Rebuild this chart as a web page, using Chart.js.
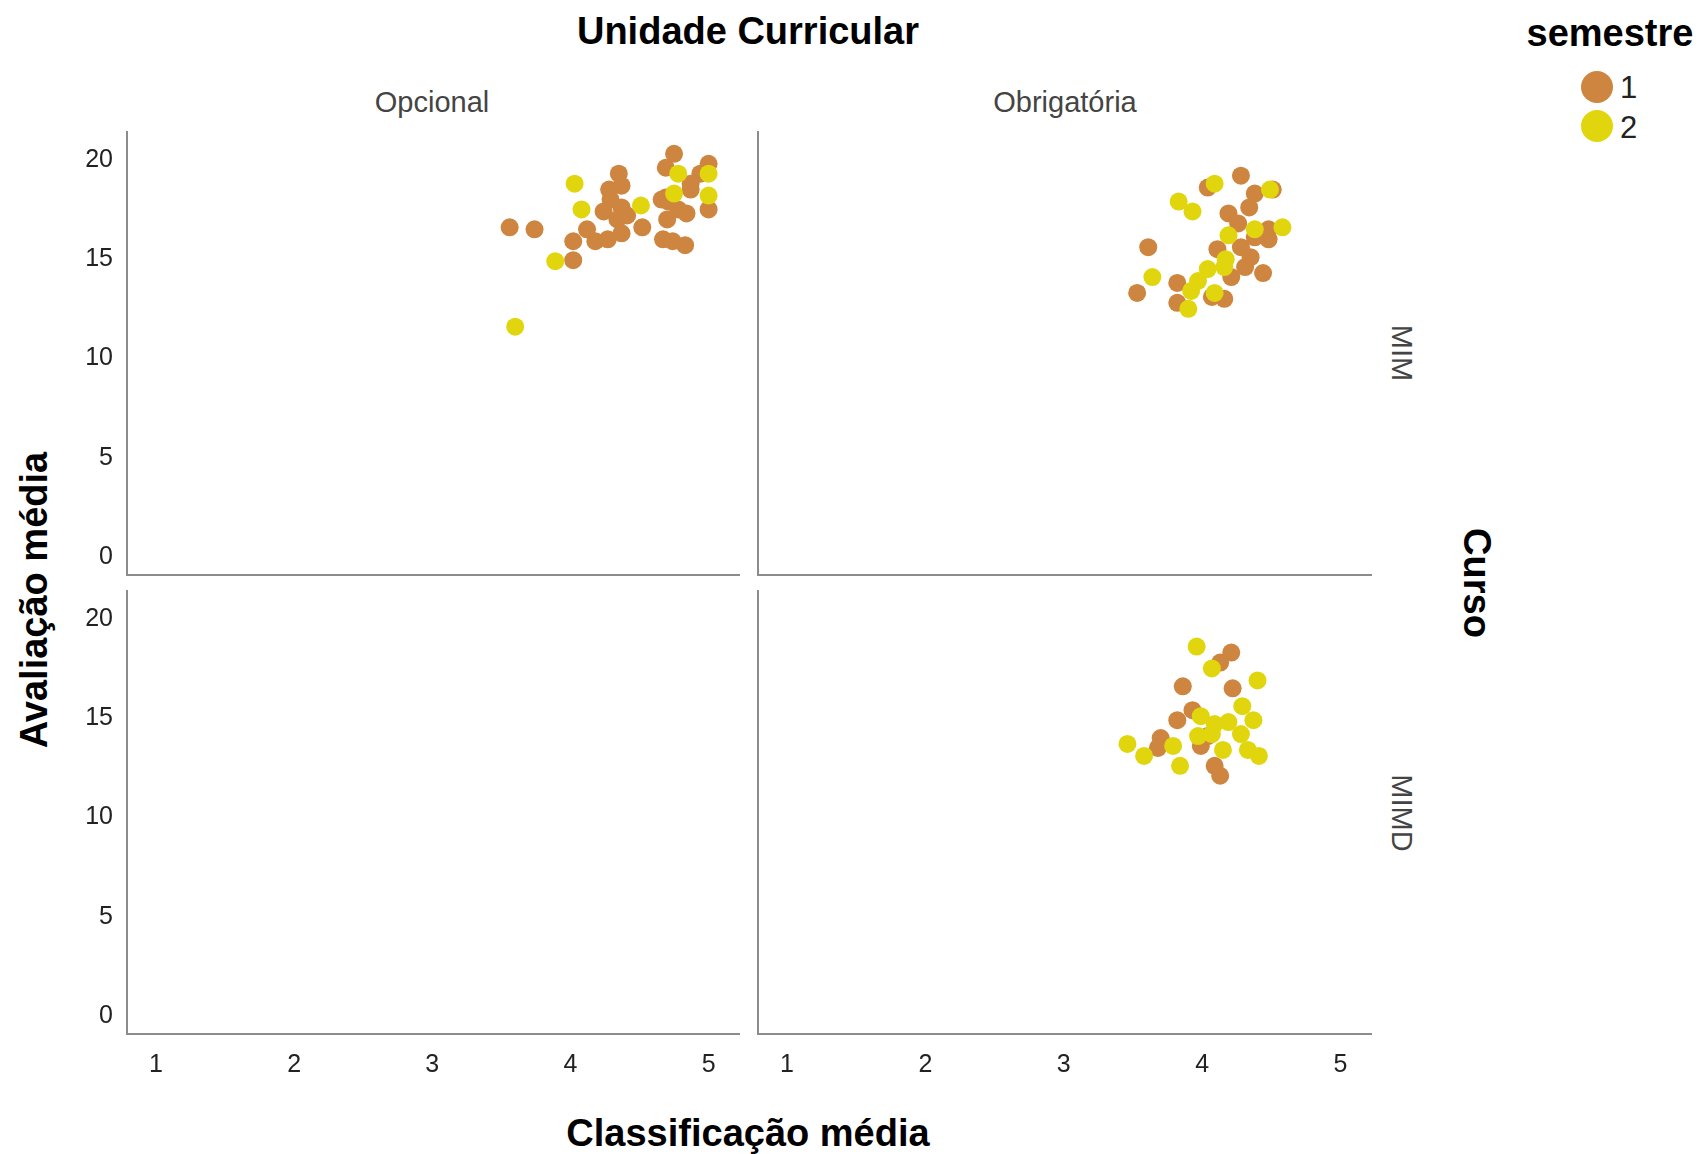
<!DOCTYPE html>
<html>
<head>
<meta charset="utf-8">
<script src="https://cdn.jsdelivr.net/npm/chart.js@4.4.1/dist/chart.umd.min.js"></script>
<style>
  body { margin: 0; background: #fff; width: 1699px; height: 1154px; position: relative; overflow: hidden;
         font-family: "Liberation Sans", Arial, sans-serif; }
  canvas { position: absolute; }
  .t { position: absolute; white-space: nowrap; transform: translate(-50%, -50%); }
  .big { font-weight: bold; font-size: 38px; color: #000; }
  .strip { font-size: 29px; color: #444; }
  .dot { position: absolute; width: 32px; height: 32px; border-radius: 50%; }
  .lg { position: absolute; font-size: 31px; color: #222; }
</style>
</head>
<body>

<div class="t big" style="left:748px;top:31px">Unidade Curricular</div>
<div class="t strip" style="left:432px;top:102px">Opcional</div>
<div class="t strip" style="left:1065px;top:102px">Obrigatória</div>
<div class="t strip" style="left:1401px;top:353px;transform:translate(-50%,-50%) rotate(90deg)">MIM</div>
<div class="t strip" style="left:1401px;top:813px;transform:translate(-50%,-50%) rotate(90deg)">MIMD</div>
<div class="t big" style="left:1476px;top:583px;transform:translate(-50%,-50%) rotate(90deg)">Curso</div>
<div class="t big" style="left:34px;top:600px;transform:translate(-50%,-50%) rotate(-90deg)">Avaliação média</div>
<div class="t big" style="left:748px;top:1133px">Classificação média</div>

<div class="t big" style="left:1610px;top:33px">semestre</div>
<div class="dot" style="left:1581px;top:71px;background:#CD853F"></div>
<div class="lg" style="left:1620px;top:70px">1</div>
<div class="dot" style="left:1581px;top:110px;background:#E1D60E"></div>
<div class="lg" style="left:1620px;top:110px">2</div>

<canvas id="tl"></canvas>
<canvas id="tr"></canvas>
<canvas id="bl"></canvas>
<canvas id="br"></canvas>

<script>
  const xTicks = [1, 2, 3, 4, 5];
  const yTicks = [0, 5, 10, 15, 20];

  // MIM, Opcional
  const mimOpcional1 = [[3.56,16.6],[3.74,16.5],[4.75,20.3],[4.69,19.6],[5.0,19.8],[4.35,19.3],[4.28,18.5],[4.37,18.7],
    [4.87,18.5],[4.94,19.3],[4.69,18.1],[4.29,18.0],[4.37,17.6],[4.24,17.4],[4.34,17.0],[4.41,17.2],[4.78,17.5],
    [4.84,17.3],[5.0,17.5],[4.70,17.0],[4.71,17.9],[4.52,16.6],[4.12,16.5],[4.02,15.9],[4.02,14.95],[4.18,15.9],
    [4.27,16.0],[4.37,16.3],[4.67,16.0],[4.74,15.9],[4.83,15.7],[4.87,18.8],[4.66,18.0]];
  const mimOpcional2 = [[4.03,18.8],[4.08,17.5],[4.51,17.7],[4.78,19.3],[4.75,18.3],[5.0,19.3],[5.0,18.2],[3.89,14.9],[3.60,11.6]];

  // MIM, Obrigatória
  const mimObrig1 = [[4.28,19.2],[4.04,18.6],[4.38,18.3],[4.51,18.5],[4.34,17.6],[4.19,17.3],[4.26,16.8],[4.48,16.5],
    [4.48,16.0],[3.61,15.6],[4.11,15.5],[4.28,15.6],[4.35,15.1],[4.31,14.6],[4.44,14.3],[4.21,14.1],[3.82,13.8],
    [3.53,13.3],[3.82,12.8],[4.16,13.0],[4.07,13.1],[4.38,16.1]];
  const mimObrig2 = [[4.09,18.8],[3.83,17.9],[3.93,17.4],[4.49,18.5],[4.58,16.6],[4.38,16.5],[4.19,16.2],[4.17,15.0],
    [3.64,14.1],[4.04,14.5],[3.97,13.9],[3.92,13.4],[4.09,13.3],[3.90,12.5],[4.16,14.6]];

  // MIMD, Opcional (sem dados)
  const mimdOpcional1 = [];
  const mimdOpcional2 = [];

  // MIMD, Obrigatória
  const mimdObrig1 = [[4.21,18.3],[4.13,17.8],[3.86,16.6],[4.22,16.5],[3.93,15.4],[3.82,14.9],[3.70,14.0],[3.68,13.5],
    [3.99,13.6],[4.09,12.6],[4.13,12.1],[4.04,14.1]];
  const mimdObrig2 = [[3.96,18.6],[4.07,17.5],[4.40,16.9],[3.99,15.1],[4.29,15.6],[4.37,14.9],[4.19,14.8],[4.09,14.7],
    [3.46,13.7],[3.58,13.1],[3.79,13.6],[3.84,12.6],[3.97,14.1],[4.15,13.4],[4.33,13.4],[4.41,13.1],[4.07,14.2],[4.28,14.2]];

  const orange = '#CD853F';
  const yellow = '#E1D60E';
  const axisGrey = '#8c8c8c';
  const tickFont = { family: 'Liberation Sans, Arial, sans-serif', size: 25 };

  // space around the plot area inside each canvas
  const padL = 80, padT = 20, padR = 10, padB = 60;

  function pts(arr) {
    return arr.map(p => ({ x: p[0], y: p[1] }));
  }

  function panel(id, plotL, plotT, plotW, plotH, s1, s2, showX, showY) {
    const cv = document.getElementById(id);
    cv.width = plotW + padL + padR;
    cv.height = plotH + padT + padB;
    cv.style.left = (plotL - padL) + 'px';
    cv.style.top = (plotT - padT) + 'px';

    new Chart(cv, {
      type: 'scatter',
      data: {
        datasets: [
          { label: '1', data: pts(s1), backgroundColor: orange, borderWidth: 0, pointRadius: 9, order: 2 },
          { label: '2', data: pts(s2), backgroundColor: yellow, borderWidth: 0, pointRadius: 9, order: 1 }
        ]
      },
      options: {
        responsive: false,
        animation: false,
        layout: { padding: { top: padT, right: padR, left: 0, bottom: 0 } },
        plugins: { legend: { display: false }, tooltip: { enabled: false } },
        scales: {
          x: {
            type: 'linear', min: 0.79, max: 5.22,
            afterBuildTicks: s => { s.ticks = xTicks.map(v => ({ value: v })); },
            afterFit: s => { s.height = padB; s.paddingLeft = 0; s.paddingRight = 0; },
            grid: { display: false, drawTicks: false },
            border: { color: axisGrey, width: 2 },
            ticks: { display: showX, font: tickFont, color: '#222', padding: 16 }
          },
          y: {
            type: 'linear', min: -0.9, max: 21.4,
            afterBuildTicks: s => { s.ticks = yTicks.map(v => ({ value: v })); },
            afterFit: s => { s.width = padL; s.paddingTop = 0; s.paddingBottom = 0; },
            grid: { display: false, drawTicks: false },
            border: { color: axisGrey, width: 2 },
            ticks: { display: showY, font: tickFont, color: '#222', padding: 14 }
          }
        }
      }
    });
  }

  panel('tl', 127, 132, 612, 443, mimOpcional1, mimOpcional2, false, true);
  panel('tr', 758, 132, 613, 443, mimObrig1, mimObrig2, false, false);
  panel('bl', 127, 591, 612, 443, mimdOpcional1, mimdOpcional2, true, true);
  panel('br', 758, 591, 613, 443, mimdObrig1, mimdObrig2, true, false);
</script>
</body>
</html>
